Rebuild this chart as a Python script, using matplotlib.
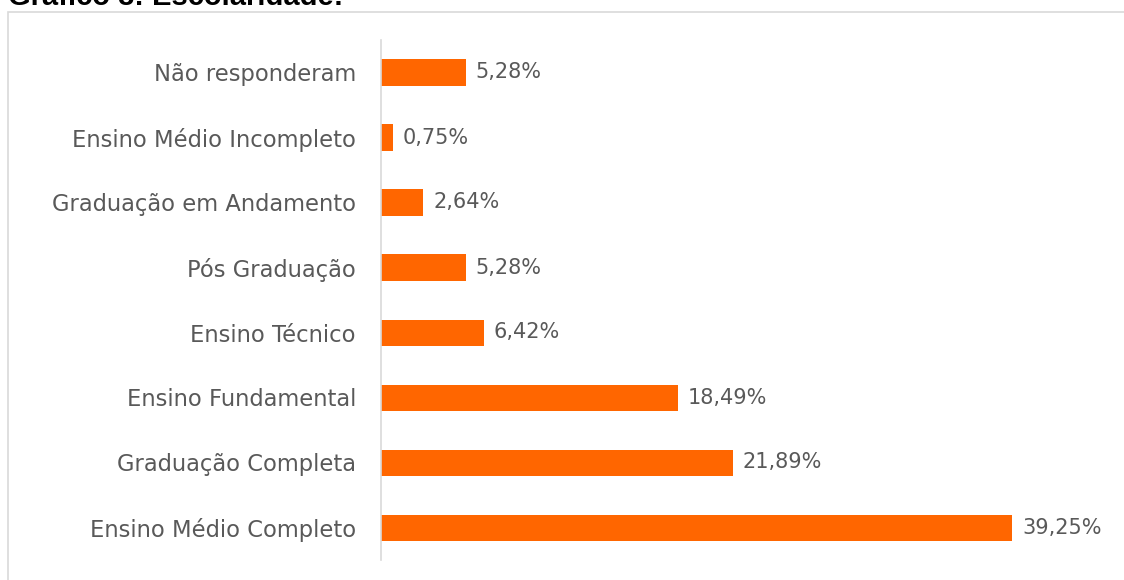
import matplotlib.pyplot as plt
from matplotlib.patches import Rectangle

# escolaridade dos entrevistados (%)
categorias = ["Ensino Médio Completo", "Graduação Completa", "Ensino Fundamental",
              "Ensino Técnico", "Pós Graduação", "Graduação em Andamento",
              "Ensino Médio Incompleto", "Não responderam"]
valores = [39.25, 21.89, 18.49, 6.42, 5.28, 2.64, 0.75, 5.28]
rotulos = ["39,25%", "21,89%", "18,49%", "6,42%", "5,28%", "2,64%", "0,75%", "5,28%"]

titulo = "Gráfico 8: Escolaridade:"
fonte = ["DejaVu Sans"]
cinza = "#595959"

fig = plt.figure(figsize=(11.24, 5.8), dpi=100)

# moldura da área do gráfico
fig.patches.append(Rectangle((8 / 1124, -0.1), 1.2, (580 - 12) / 580 + 0.1,
                             transform=fig.transFigure, fill=False,
                             edgecolor="#d9d9d9", linewidth=1.2))
fig.text(8 / 1124, 1 - 5 / 580, titulo, fontsize=21, fontweight="bold",
         family="Liberation Sans", va="baseline", ha="left")

ax = fig.add_axes([381 / 1124, 20 / 580, 724 / 1124, 520 / 580])
pos = range(len(categorias))
ax.barh(pos, valores, height=0.4, color="#ff6600")
for p, v, r in zip(pos, valores, rotulos):
    ax.text(v + 0.6, p, r, va="center", ha="left", fontsize=15,
            color=cinza, family=fonte)

ax.set_xlim(0, 45)
ax.set_ylim(-0.5, 7.5)
ax.set_yticks(list(pos))
ax.set_yticklabels(categorias, fontsize=16.3, color=cinza, family=fonte)
ax.tick_params(axis="y", length=0, pad=18)
ax.set_xticks([])
for lado in ["top", "right", "bottom"]:
    ax.spines[lado].set_visible(False)
ax.spines["left"].set_color("#d9d9d9")
ax.spines["left"].set_linewidth(1.2)

plt.savefig("out.png", dpi=100)
